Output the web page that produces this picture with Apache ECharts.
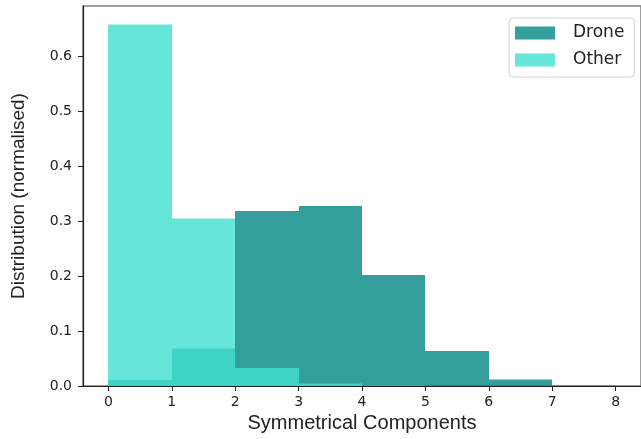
<!DOCTYPE html>
<html>
<head>
<meta charset="utf-8">
<script src="https://cdn.jsdelivr.net/npm/echarts@6/dist/echarts.min.js"></script>
<style>html,body{margin:0;padding:0;background:#fff;}#c{width:641px;height:439px;}</style>
</head>
<body>
<div id="c"></div>
<script>
// Histogram bin edges (Symmetrical Components)
const binEdges = [0, 1, 2, 3, 4, 5, 6, 7, 8];
// Normalised distribution per bin
const droneValues = [0.011, 0.068, 0.319, 0.328, 0.202, 0.064, 0.012, 0.001];
const otherValues = [0.658, 0.305, 0.033, 0.005, 0.001, 0, 0, 0];
// Tick labels
const xTicks = [0, 1, 2, 3, 4, 5, 6, 7, 8];
const yTicks = [0, 0.1, 0.2, 0.3, 0.4, 0.5, 0.6];
const seriesNames = ['Drone', 'Other'];

function toBins(vals) {
  return vals.map((v, i) => [binEdges[i], binEdges[i + 1], v]);
}

const colors = { Drone: '#008683', Other: '#40e0d0' };
const legendColors = { Drone: '#33a09e', Other: '#66e6d9' };

function makeRender(color) {
  return function (params, api) {
    const x0 = api.value(0), x1 = api.value(1), y = api.value(2);
    const p0 = api.coord([x0, y]);
    const p1 = api.coord([x1, 0]);
    const xa = Math.round(p0[0]), xb = Math.round(p1[0]);
    const ya = Math.round(p0[1] * 2) / 2, yb = Math.round(p1[1]);
    return {
      type: 'rect',
      shape: { x: xa, y: ya, width: xb - xa, height: yb - ya },
      style: { fill: color, opacity: 0.8 }
    };
  };
}

const chart = echarts.init(document.getElementById('c'), null, { renderer: 'canvas' });
chart.setOption({
  animation: false,
  backgroundColor: '#fff',
  grid: {
    left: 83, right: -4, top: 6, bottom: 53,
    show: true, borderColor: '#808080', borderWidth: 1.5, backgroundColor: 'transparent'
  },
  legend: {
    orient: 'vertical',
    left: 509, top: 18,
    padding: [5, 10, 7, 6],
    itemWidth: 40, itemHeight: 13, itemGap: 7,
    borderColor: '#d0d0d0', borderWidth: 1, borderRadius: 4,
    backgroundColor: 'rgba(255,255,255,0.8)',
    textStyle: { fontFamily: 'DejaVu Sans', fontSize: 17, color: '#222', lineHeight: 20, padding: [0, 0, 0, 13] },
    data: seriesNames.map(n => ({ name: n, icon: 'rect', itemStyle: { color: legendColors[n], opacity: 1 } }))
  },
  xAxis: {
    type: 'value', min: -0.4, max: 8.4,
    name: 'Symmetrical Components', nameLocation: 'middle', nameGap: 27,
    nameTextStyle: { fontFamily: 'Liberation Sans', fontSize: 20, color: '#222' },
    splitLine: { show: false },
    axisLine: { show: true, onZero: false, lineStyle: { color: '#222', width: 1.2 } },
    axisTick: { show: true, length: 5, lineStyle: { color: '#222' }, customValues: xTicks },
    axisLabel: { margin: 9, fontFamily: 'DejaVu Sans', fontSize: 14, color: '#222', customValues: xTicks,
      formatter: v => String(Math.round(v)) }
  },
  yAxis: {
    type: 'value', min: 0, max: 0.692,
    name: 'Distribution (normalised)', nameLocation: 'middle', nameGap: 55,
    nameTextStyle: { fontFamily: 'Liberation Sans', fontSize: 19, color: '#222' },
    splitLine: { show: false },
    axisLine: { show: true, onZero: false, lineStyle: { color: '#222', width: 1.2 } },
    axisTick: { show: true, length: 5, lineStyle: { color: '#222' }, customValues: yTicks },
    axisLabel: { margin: 11, fontFamily: 'DejaVu Sans', fontSize: 14, color: '#222', customValues: yTicks,
      formatter: v => v.toFixed(1) }
  },
  series: [
    {
      name: 'Drone', type: 'custom', renderItem: makeRender(colors.Drone),
      itemStyle: { color: legendColors.Drone },
      encode: { x: [0, 1], y: 2 }, clip: true, z: 2,
      data: toBins(droneValues)
    },
    {
      name: 'Other', type: 'custom', renderItem: makeRender(colors.Other),
      itemStyle: { color: legendColors.Other },
      encode: { x: [0, 1], y: 2 }, clip: true, z: 3,
      data: toBins(otherValues)
    }
  ]
});
</script>
</body>
</html>
